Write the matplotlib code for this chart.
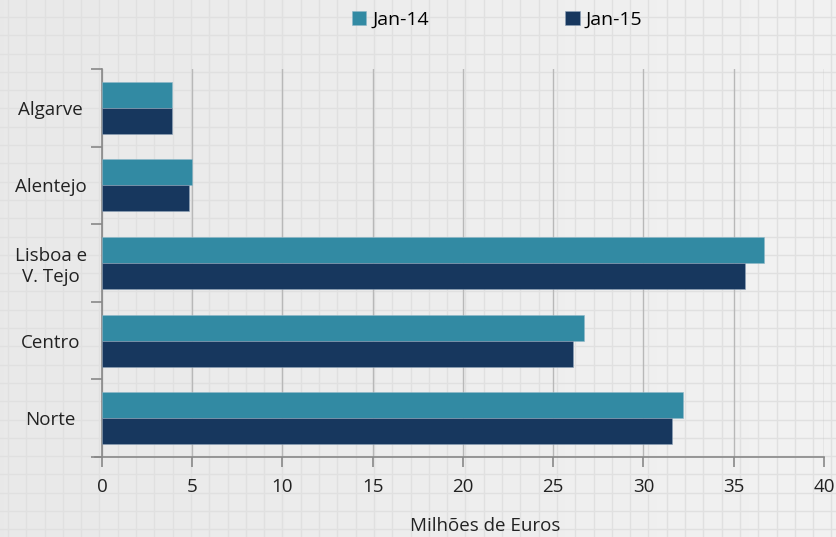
import numpy as np
import matplotlib.pyplot as plt

plt.rcParams['font.family'] = ['Open Sans', 'DejaVu Sans']

regions = ["Algarve", "Alentejo", "Lisboa e\nV. Tejo", "Centro", "Norte"]
jan14 = [3.9, 5.0, 36.7, 26.7, 32.2]
jan15 = [3.9, 4.8, 35.6, 26.1, 31.6]
series_labels = ["Jan-14", "Jan-15"]
xticks = [0, 5, 10, 15, 20, 25, 30, 35, 40]

c14 = "#328aa3"
c15 = "#17375e"

fig = plt.figure(figsize=(8.37, 5.37), dpi=100)

# graph-paper background
bg = fig.add_axes([0, 0, 1, 1], zorder=-10)
grad = np.linspace(0, 1, 200)[None, :]
bg.imshow(0.91 + 0.035 * grad, cmap="gray", vmin=0, vmax=1, aspect="auto",
          extent=[0, 837, 537, 0])
for gx in np.arange(8, 837, 18.3):
    bg.axvline(gx, color="#e0e0e0", lw=1.0)
for gy in np.arange(17, 537, 18.3):
    bg.axhline(gy, color="#e0e0e0", lw=1.0)
bg.set_xlim(0, 837)
bg.set_ylim(537, 0)
bg.axis("off")

ax = fig.add_axes([102 / 837, 1 - 457 / 537, 722 / 837, 388 / 537])
ax.patch.set_alpha(0)

y = np.arange(len(regions))
h = 0.335
ax.barh(y - h / 2, jan14, height=h, color=c14, edgecolor="#8fb8c8", lw=0.4,
        label=series_labels[0], zorder=3)
ax.barh(y + h / 2, jan15, height=h, color=c15, edgecolor="#8fa3b8", lw=0.4,
        label=series_labels[1], zorder=3)

ax.set_xlim(0, 40)
ax.set_ylim(len(regions) - 0.5, -0.5)
ax.set_xticks(xticks)
ax.set_yticks(y)
ax.set_yticklabels(regions, fontsize=13.5, color="#222222")
ax.set_yticks(np.arange(-0.5, len(regions)), minor=True)
ax.tick_params(axis="y", which="major", length=0, pad=37)
ax.tick_params(axis="y", which="minor", length=8, color="#888888", width=1.2)
ax.tick_params(axis="x", length=7, color="#888888", width=1.2,
               labelsize=13.5, labelcolor="#222222", pad=8)

ax.grid(axis="x", color="#b8b8b8", lw=1)
ax.set_axisbelow(True)
for s in ["top", "right"]:
    ax.spines[s].set_visible(False)
for s in ["left", "bottom"]:
    ax.spines[s].set_color("#888888")
    ax.spines[s].set_linewidth(1.2)
ax.spines["bottom"].set_bounds(-0.4, 40)

for lab in ax.get_yticklabels():
    lab.set_horizontalalignment("center")
    lab.set_multialignment("center")

fig.legend(loc="center", bbox_to_anchor=(497 / 837, 1 - 20 / 537), ncol=2,
           frameon=False, fontsize=14, handlelength=0.75, handleheight=0.75,
           handletextpad=0.3, columnspacing=7.0)

fig.text(485 / 837, 1 - 526 / 537, "Milhões de Euros", fontsize=13.5,
         color="#222222", ha="center", va="center")

fig.savefig("out.png", dpi=100)
